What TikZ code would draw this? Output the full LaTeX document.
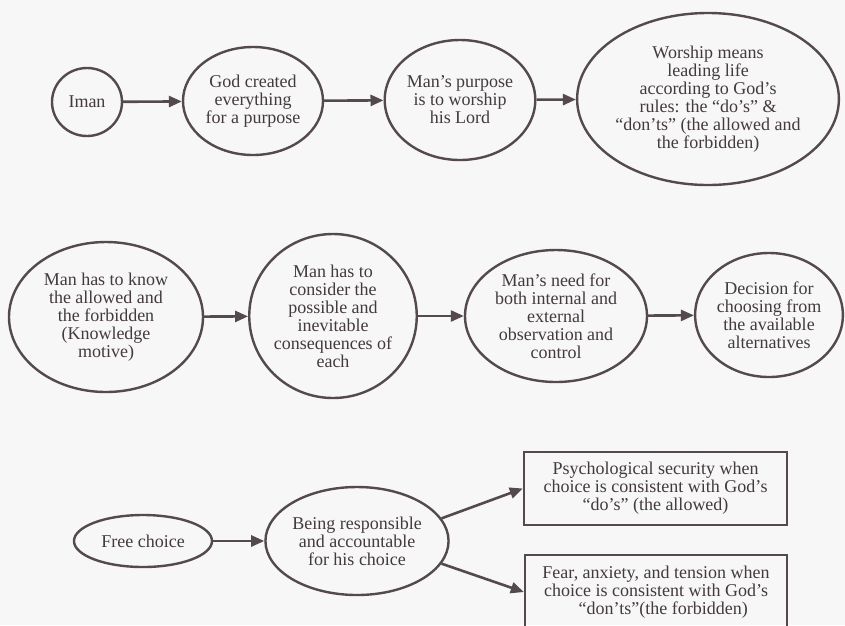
\documentclass[tikz,border=0pt]{standalone}
\usepackage{fontspec}
\setmainfont{Liberation Serif}
\usetikzlibrary{shapes.geometric,arrows.meta}
\definecolor{ink}{HTML}{544A4E}
\definecolor{txt}{HTML}{433A3E}
\definecolor{bg}{HTML}{F7F7F7}
\begin{document}
\begin{tikzpicture}[x=1pt,y=-1pt,
  every node/.style={font=\fontsize{18}{18}\selectfont, text=txt, align=center},
  oval/.style={draw=ink, line width=2.4pt, ellipse, inner sep=0pt},
  rbox/.style={draw=ink, line width=2.4pt, rectangle, inner sep=0pt},
  link/.style={draw=ink, line width=2.6pt, -{Triangle[length=13pt,width=11pt]}}]
\fill[bg] (0,0) rectangle (845,625);
\useasboundingbox (0,0) rectangle (845,625);
\clip (0,0) rectangle (845,625);
% row 1
\node[oval, minimum width=70, minimum height=68] (iman) at (87,102) {Iman};
\node[oval, minimum width=140, minimum height=108] (god) at (253,101) {God created\\everything\\for a purpose};
\node[oval, minimum width=150, minimum height=120] (purpose) at (460,100) {Man’s purpose\\is to worship\\his Lord};
\node[oval, minimum width=224, minimum height=172] (worship) at (708,99) {Worship means\\leading life\\according to God’s\\rules: the “do’s” \&\\“don’ts” (the allowed and\\the forbidden)};
% row 2
\node[oval, minimum width=194, minimum height=150] (know) at (106,317) {Man has to know\\the allowed and\\the forbidden\\(Knowledge\\motive)};
\node[oval, minimum width=166, minimum height=164] (consider) at (333,316) {Man has to\\consider the\\possible and\\inevitable\\consequences of\\each};
\node[oval, minimum width=182, minimum height=132] (need) at (556,316) {Man’s need for\\both internal and\\external\\observation and\\control};
\node[oval, minimum width=146, minimum height=124] (decision) at (769,315) {Decision for\\choosing from\\the available\\alternatives};
% row 3
\node[oval, minimum width=138, minimum height=52] (free) at (143,541) {Free choice};
\node[oval, minimum width=170, minimum height=108] (resp) at (357,541) {Being responsible\\and accountable\\for his choice};
\node[rbox, minimum width=263, minimum height=73] (box1) at (655.5,488.5) {Psychological security when\\choice is consistent with God’s\\“do’s” (the allowed)};
\node[rbox, minimum width=262, minimum height=74] (box2) at (656,592) {Fear, anxiety, and tension when\\choice is consistent with God’s\\\hspace*{0.8em}“don’ts”(the forbidden)};
% connectors
\draw[link] (iman) -- (god);
\draw[link] (god) -- (purpose);
\draw[link] (purpose) -- (worship);
\draw[link] (know) -- (consider);
\draw[link] (consider) -- (need);
\draw[link] (need) -- (decision);
\draw[link] (free) -- (resp);
\draw[link] (resp.15) -- (box1.west);
\draw[link] (resp.-15) -- (box2.west);
\end{tikzpicture}
\end{document}
